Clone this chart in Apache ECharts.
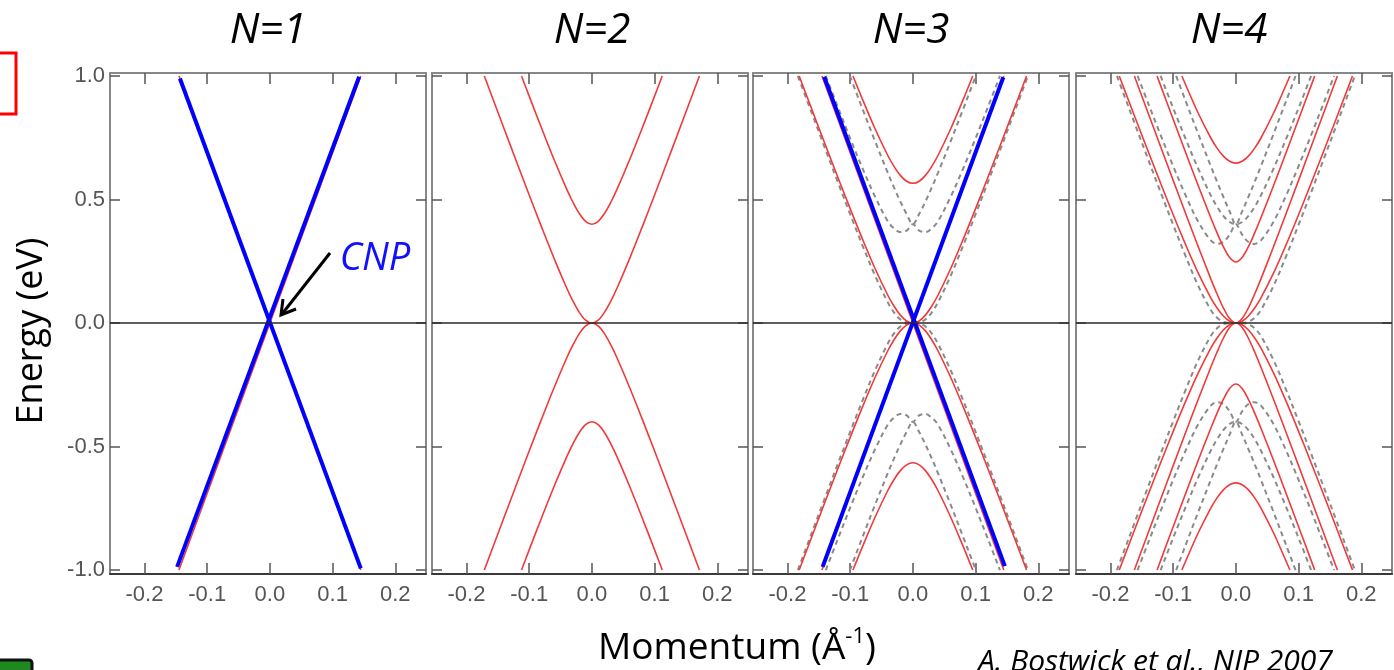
<!DOCTYPE html>
<html>
<head>
<meta charset="utf-8">
<title>N-layer graphene bands</title>
<script src="https://cdn.jsdelivr.net/npm/echarts@6/dist/echarts.min.js"></script>
<style>
  html, body { margin: 0; padding: 0; background: #fff; }
  #chart { width: 1394px; height: 670px; }
</style>
</head>
<body>
<div id="chart"></div>
<script>
// titles and ticks
const panelTitles = ['N=1', 'N=2', 'N=3', 'N=4'];
const momentumTicks = [-0.2, -0.1, 0.0, 0.1, 0.2];
const energyTicks = [-1.0, -0.5, 0.0, 0.5, 1.0];

// bands as [k, E] for k >= 0 and E >= 0
// each panel is symmetric in k and in E, the other quadrants are mirrored below
const monoCone = [[0, 0], [0.145, 1.0]];

const bilayerLow = [[0, 0], [0.01, 0.0116], [0.02, 0.043], [0.03, 0.0878], [0.04, 0.1408], [0.06, 0.2598], [0.08, 0.3871], [0.10, 0.5184], [0.12, 0.6518], [0.14, 0.7865], [0.16, 0.922], [0.1715, 1.0]];
const bilayerHigh = [[0, 0.4], [0.01, 0.4116], [0.02, 0.443], [0.03, 0.4878], [0.04, 0.5408], [0.06, 0.6598], [0.08, 0.7871], [0.10, 0.9184], [0.1122, 1.0]];

// N=3, red (ABA)
const abaLow = [[0, 0], [0.01, 0.0083], [0.02, 0.0319], [0.03, 0.0677], [0.04, 0.1123], [0.06, 0.2186], [0.08, 0.3374], [0.10, 0.4629], [0.12, 0.5921], [0.14, 0.7237], [0.16, 0.8568], [0.1813, 1.0]];
const abaHigh = [[0, 0.5657], [0.01, 0.574], [0.02, 0.5976], [0.03, 0.6333], [0.04, 0.678], [0.06, 0.7842], [0.08, 0.9031], [0.0955, 1.0]];
// N=3, grey dashed (ABC)
const abcLow = [[0, 0], [0.01, 0.002], [0.02, 0.0145], [0.03, 0.0423], [0.04, 0.0834], [0.06, 0.1897], [0.08, 0.3117], [0.10, 0.4404], [0.12, 0.5723], [0.14, 0.706], [0.16, 0.8409], [0.1834, 1.0]];
const abcMid = [[0, 0.4], [0.01, 0.374], [0.02, 0.368], [0.03, 0.3831], [0.04, 0.4116], [0.06, 0.5097], [0.08, 0.6242], [0.10, 0.7478], [0.12, 0.8764], [0.1388, 1.0]];
const abcHigh = [[0, 0.4], [0.01, 0.4409], [0.02, 0.4915], [0.03, 0.5478], [0.04, 0.6078], [0.06, 0.7338], [0.08, 0.8645], [0.09, 0.9308], [0.1004, 1.0]];

// N=4, red (ABAB)
const ababLow1 = [[0, 0], [0.01, 0.0073], [0.02, 0.0282], [0.03, 0.0606], [0.04, 0.1017], [0.06, 0.2019], [0.08, 0.3163], [0.10, 0.4385], [0.12, 0.5654], [0.14, 0.6952], [0.16, 0.8269], [0.18, 0.9599], [0.186, 1.0]];
const ababLow2 = [[0, 0], [0.01, 0.018], [0.02, 0.0617], [0.03, 0.1175], [0.04, 0.1788], [0.06, 0.3085], [0.08, 0.4421], [0.10, 0.5774], [0.12, 0.7136], [0.14, 0.8503], [0.1619, 1.0]];
const ababHigh2 = [[0, 0.2472], [0.01, 0.2652], [0.02, 0.3089], [0.03, 0.3647], [0.04, 0.426], [0.06, 0.5557], [0.08, 0.6893], [0.10, 0.8246], [0.12, 0.9608], [0.1257, 1.0]];
const ababHigh1 = [[0, 0.6472], [0.01, 0.6545], [0.02, 0.6754], [0.03, 0.7078], [0.04, 0.7489], [0.06, 0.8491], [0.08, 0.9635], [0.0861, 1.0]];
// N=4, grey dashed (ABCA)
const abcaBand1 = [[0, 0], [0.01, 0.0003], [0.02, 0.005], [0.03, 0.0213], [0.04, 0.0529], [0.06, 0.1501], [0.08, 0.2695], [0.10, 0.3975], [0.12, 0.5291], [0.14, 0.663], [0.16, 0.7981], [0.18, 0.934], [0.1897, 1.0]];
const abcaBand2 = [[0, 0.4], [0.01, 0.3575], [0.02, 0.328], [0.03, 0.3203], [0.04, 0.3345], [0.06, 0.4095], [0.08, 0.5156], [0.10, 0.635], [0.12, 0.7608], [0.14, 0.8903], [0.1567, 1.0]];
const abcaBand3 = [[0, 0.4], [0.01, 0.4088], [0.02, 0.4335], [0.03, 0.4706], [0.04, 0.5165], [0.06, 0.6245], [0.08, 0.7442], [0.10, 0.8701], [0.12, 1.0]];
const abcaBand4 = [[0, 0.4], [0.01, 0.4518], [0.02, 0.5105], [0.03, 0.5717], [0.04, 0.635], [0.06, 0.765], [0.08, 0.8981], [0.0952, 1.0]];

// thick blue guide lines, whole lines (not mirrored)
const n1BlueA = [[-0.1435, 0.99], [0.145, -0.993]];
const n1BlueB = [[-0.148, -0.987], [0.1424, 0.997]];
const n3BlueA = [[-0.1415, 0.997], [0.1467, -0.984]];
const n3BlueB = [[-0.144, -0.987], [0.1442, 0.995]];

const gridLefts = [110, 432, 753, 1076];
const titleCenters = [268, 592, 911, 1229];
const labelFont = '"Liberation Sans", Arial, sans-serif';
const textFont = '"Open Sans", "Noto Sans", sans-serif';

const lineStyles = {
    red: { color: '#f03a3a', width: 1.6, type: 'solid' },
    grey: { color: '#8a8a8a', width: 2, type: [5, 4] },
    blue: { color: '#0000ff', width: 4, type: 'solid' }
};
const zLevels = { grey: 2, red: 3, blue: 4 };

function mirrorBand (half, sign) {
    const left = half.slice(1).reverse().map(p => [-p[0], sign * p[1]]);
    const right = half.map(p => [p[0], sign * p[1]]);
    return left.concat(right);
}

function lineSeries (panel, data, kind, straight) {
    return {
        type: 'line',
        xAxisIndex: panel * 2,
        yAxisIndex: panel * 2,
        data: data,
        symbol: 'none',
        smooth: straight ? false : 0.35,
        silent: true,
        z: zLevels[kind],
        lineStyle: lineStyles[kind]
    };
}

function bandSeries (panel, half, kind, straight) {
    return [
        lineSeries(panel, mirrorBand(half, 1), kind, straight),
        lineSeries(panel, mirrorBand(half, -1), kind, straight)
    ];
}

function zeroLine (panel) {
    return {
        type: 'line',
        xAxisIndex: panel * 2,
        yAxisIndex: panel * 2,
        data: [],
        silent: true,
        markLine: {
            symbol: ['none', 'none'],
            silent: true,
            label: { show: false },
            lineStyle: { color: '#2a2a2a', width: 1.6, type: 'solid' },
            data: [{ yAxis: 0 }]
        }
    };
}

const grids = [];
const xAxes = [];
const yAxes = [];
gridLefts.forEach((left, i) => {
    grids.push({ left: left, top: 73, width: 316, height: 501 });
    const tickStyle = { color: '#555', width: 1.5 };
    xAxes.push({
        gridIndex: i, type: 'value', min: -0.255, max: 0.249, position: 'bottom',
        axisLine: { onZero: false, lineStyle: { color: '#3a3a3a', width: 2 } },
        axisTick: { inside: true, length: 11, customValues: momentumTicks, lineStyle: tickStyle },
        axisLabel: {
            customValues: momentumTicks, formatter: v => v.toFixed(1),
            fontSize: 22, color: '#555', margin: 10, fontFamily: labelFont
        },
        splitLine: { show: false }
    });
    xAxes.push({
        gridIndex: i, type: 'value', min: -0.255, max: 0.249, position: 'top',
        axisLine: { onZero: false, lineStyle: { color: '#888', width: 2 } },
        axisTick: { inside: true, length: 11, customValues: momentumTicks, lineStyle: tickStyle },
        axisLabel: { show: false },
        splitLine: { show: false }
    });
    yAxes.push({
        gridIndex: i, type: 'value', min: -1.016, max: 1.012, position: 'left',
        axisLine: { onZero: false, lineStyle: { color: '#888', width: 2 } },
        axisTick: { inside: true, length: 10, customValues: energyTicks, lineStyle: tickStyle },
        axisLabel: {
            show: i === 0, customValues: energyTicks, formatter: v => v.toFixed(1),
            fontSize: 22, color: '#555', margin: 5, fontFamily: labelFont
        },
        splitLine: { show: false }
    });
    yAxes.push({
        gridIndex: i, type: 'value', min: -1.016, max: 1.012, position: 'right',
        axisLine: { onZero: false, lineStyle: { color: '#888', width: 2 } },
        axisTick: { inside: true, length: 10, customValues: energyTicks, lineStyle: tickStyle },
        axisLabel: { show: false },
        splitLine: { show: false }
    });
});

const series = [].concat(
    // N=1
    [zeroLine(0)],
    bandSeries(0, monoCone, 'red', true),
    [lineSeries(0, n1BlueA, 'blue', true), lineSeries(0, n1BlueB, 'blue', true)],
    // N=2
    [zeroLine(1)],
    bandSeries(1, bilayerLow, 'red'),
    bandSeries(1, bilayerHigh, 'red'),
    // N=3
    [zeroLine(2)],
    bandSeries(2, abcLow, 'grey'),
    bandSeries(2, abcMid, 'grey'),
    bandSeries(2, abcHigh, 'grey'),
    bandSeries(2, abaLow, 'red'),
    bandSeries(2, abaHigh, 'red'),
    bandSeries(2, monoCone, 'red', true),
    [lineSeries(2, n3BlueA, 'blue', true), lineSeries(2, n3BlueB, 'blue', true)],
    // N=4
    [zeroLine(3)],
    bandSeries(3, abcaBand1, 'grey'),
    bandSeries(3, abcaBand2, 'grey'),
    bandSeries(3, abcaBand3, 'grey'),
    bandSeries(3, abcaBand4, 'grey'),
    bandSeries(3, ababLow1, 'red'),
    bandSeries(3, ababLow2, 'red'),
    bandSeries(3, ababHigh2, 'red'),
    bandSeries(3, ababHigh1, 'red')
);

const graphics = panelTitles.map((t, i) => ({
    type: 'text', x: titleCenters[i], y: 31,
    style: { text: t, font: 'italic 42px ' + textFont, fill: '#000', align: 'center', verticalAlign: 'middle' }
}));
graphics.push(
    {
        type: 'text', x: 32, y: 331, rotation: Math.PI / 2,
        style: { text: 'Energy (eV)', font: '36px ' + textFont, fill: '#000', align: 'center', verticalAlign: 'middle' }
    },
    {
        type: 'text', x: 598, y: 648,
        style: {
            text: '{a|Momentum (Å}{s|-1}{a|)}', align: 'left', verticalAlign: 'middle',
            rich: {
                a: { font: '37px ' + textFont, fill: '#000' },
                s: { font: '22px ' + textFont, fill: '#000', padding: [0, 0, 22, 0] }
            }
        }
    },
    {
        type: 'text', x: 978, y: 662,
        style: { text: 'A. Bostwick et al., NJP 2007', font: 'italic 30px ' + textFont, fill: '#000', align: 'left', verticalAlign: 'middle' }
    },
    {
        type: 'text', x: 375, y: 259,
        style: { text: 'CNP', font: 'italic 38px ' + textFont, fill: '#1010ff', align: 'center', verticalAlign: 'middle' }
    },
    {
        type: 'polyline', z: 10,
        shape: { points: [[330, 253], [282, 314]] },
        style: { stroke: '#000', lineWidth: 3, fill: null }
    },
    {
        type: 'polyline', z: 10,
        shape: { points: [[296, 309], [281, 315], [283, 299]] },
        style: { stroke: '#000', lineWidth: 3, fill: null }
    },
    {
        type: 'rect',
        shape: { x: -4, y: 53, width: 20, height: 61 },
        style: { stroke: '#ff0000', lineWidth: 3, fill: null }
    },
    {
        type: 'rect',
        shape: { x: -4, y: 660, width: 36, height: 20, r: 3 },
        style: { stroke: '#111', lineWidth: 3, fill: '#1d8a1d' }
    }
);

const chart = echarts.init(document.getElementById('chart'));
chart.setOption({
    animation: false,
    backgroundColor: '#fff',
    grid: grids,
    xAxis: xAxes,
    yAxis: yAxes,
    series: series,
    graphic: graphics
});
window.addEventListener('resize', () => {
    setTimeout(function () {
        chart.resize();
    }, 100);
});
</script>
</body>
</html>
